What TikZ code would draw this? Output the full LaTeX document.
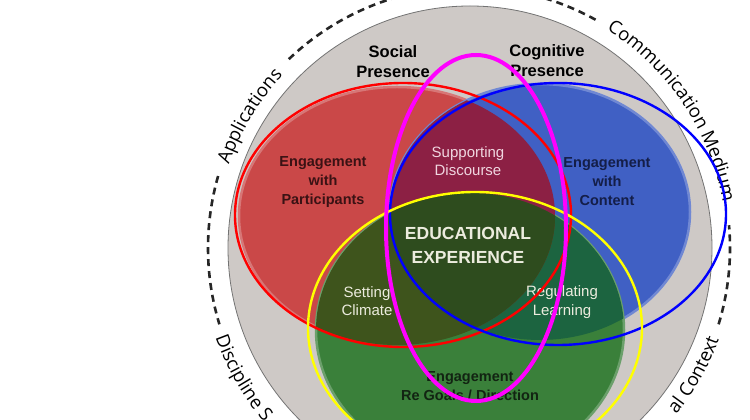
\documentclass[tikz,border=0pt]{standalone}
\usepackage{fontspec}
\setmainfont{Liberation Sans}
\newfontfamily\ringfont{Open Sans}
\usetikzlibrary{decorations.text}
\definecolor{RingClr}{RGB}{206,201,198}
\definecolor{SocialClr}{RGB}{202,72,72}
\definecolor{CognitiveClr}{RGB}{64,96,196}
\definecolor{TeachingClr}{RGB}{58,128,58}
\definecolor{DiscourseClr}{RGB}{140,32,68}
\definecolor{ClimateClr}{RGB}{62,84,28}
\definecolor{LearningClr}{RGB}{28,100,64}
\definecolor{ExperienceClr}{RGB}{46,76,30}
\definecolor{LightTxt}{RGB}{236,236,222}
\definecolor{PinkTxt}{RGB}{240,214,224}
\definecolor{PartTxt}{RGB}{58,18,20}
\definecolor{ContTxt}{RGB}{20,30,72}
\definecolor{GoalTxt}{RGB}{18,36,18}
\definecolor{LineRed}{RGB}{255,0,0}
\definecolor{LineBlue}{RGB}{0,0,255}
\definecolor{LineYellow}{RGB}{255,255,0}
\definecolor{LineMagenta}{RGB}{255,0,255}
\newcommand\socialpath{(397,204) ellipse[x radius=158,y radius=129]}
\newcommand\cognitivepath{(540,208) ellipse[x radius=150,y radius=128]}
\newcommand\teachingpath{(470,90) ellipse[x radius=154,y radius=137]}

\begin{document}
\begin{tikzpicture}[x=1pt,y=1pt,
  outline/.style={line width=2.4pt},
  heading/.style={font=\fontsize{16.5}{20}\selectfont\bfseries,align=center,inner sep=0pt},
  region/.style={font=\fontsize{14.5}{19}\selectfont\bfseries,align=center,inner sep=0pt},
  overlap/.style={font=\fontsize{15}{18.5}\selectfont,align=center,inner sep=0pt,text=LightTxt},
  ringdash/.style={line width=2.6pt,black!85,dash pattern=on 7pt off 5pt},
  ringtext/.style={decorate,decoration={text along path,text={|\ringfont\fontsize{18.5}{19}\selectfont|#1}}}]
\useasboundingbox (0,0) rectangle (750,420);
\clip (0,0) rectangle (750,420);
\coordinate (o) at (469,172);

\fill[RingClr,draw=black!55,line width=0.8pt] (470,172) circle[radius=242];
\fill[SocialClr,draw=SocialClr!75!white,line width=2.5pt] \socialpath;
\fill[CognitiveClr,draw=CognitiveClr!75!white,line width=2.5pt] \cognitivepath;
\fill[TeachingClr,draw=TeachingClr!75!white,line width=2.5pt] \teachingpath;
\begin{scope}
\clip \cognitivepath;
\fill[LearningClr] \teachingpath;
\end{scope}
\begin{scope}
\clip \socialpath;
\fill[DiscourseClr] \cognitivepath;
\fill[ClimateClr] \teachingpath;
\clip \cognitivepath;
\fill[ExperienceClr] \teachingpath;
\end{scope}

\draw[ringdash] ([shift={(61:261)}]o) arc[start angle=61,end angle=134,radius=261];
\draw[ringdash] ([shift={(164:261)}]o) arc[start angle=164,end angle=197,radius=261];
\draw[ringdash] ([shift={(-17:261)}]o) arc[start angle=-17,end angle=5,radius=261];
\path[ringtext=Applications,decoration={text align=center}] ([shift={(175:254)}]o) arc[start angle=175,end angle=123,radius=254];
\path[ringtext=Communication Medium,decoration={text align=center}] ([shift={(70:258)}]o) arc[start angle=70,end angle=-2,radius=258];
\path[ringtext=Discipline S,decoration={text align=left}] ([shift={(199.5:269)}]o) arc[start angle=199.5,end angle=240,radius=269];
\path[ringtext=al Context,decoration={text align=right}] ([shift={(-60:266)}]o) arc[start angle=-60,end angle=-20,radius=266];

\node[heading] (social) at (393,358) {Social\\Presence};
\node[heading] (cognitive) at (547,359) {Cognitive\\Presence};
\node[region,text=PartTxt] (participants) at (323,238) {Engagement\\with\\Participants};
\node[overlap,text=PinkTxt] (discourse) at (468,259) {Supporting\\Discourse};
\node[region,text=ContTxt] (content) at (607,238) {Engagement\\with\\Content};
\node[font=\fontsize{17.5}{24}\selectfont\bfseries,align=center,inner sep=0pt,text=LightTxt] (experience) at (468,175) {EDUCATIONAL\\EXPERIENCE};
\node[overlap] (climate) at (367,119) {Setting\\Climate};
\node[overlap] (learning) at (562,118) {Regulating\\Learning};
\node[region,text=GoalTxt] (goals) at (470,34) {Engagement\\Re Goals / Direction};

\draw[outline,LineRed] (403,205) ellipse[x radius=168,y radius=132];
\draw[outline,LineBlue] (558,206) ellipse[x radius=168,y radius=131];
\draw[outline,LineYellow] (475,92) ellipse[x radius=167,y radius=136];
\draw[line width=4pt,LineMagenta] (476,192) ellipse[x radius=90,y radius=173];
\end{tikzpicture}
\end{document}
